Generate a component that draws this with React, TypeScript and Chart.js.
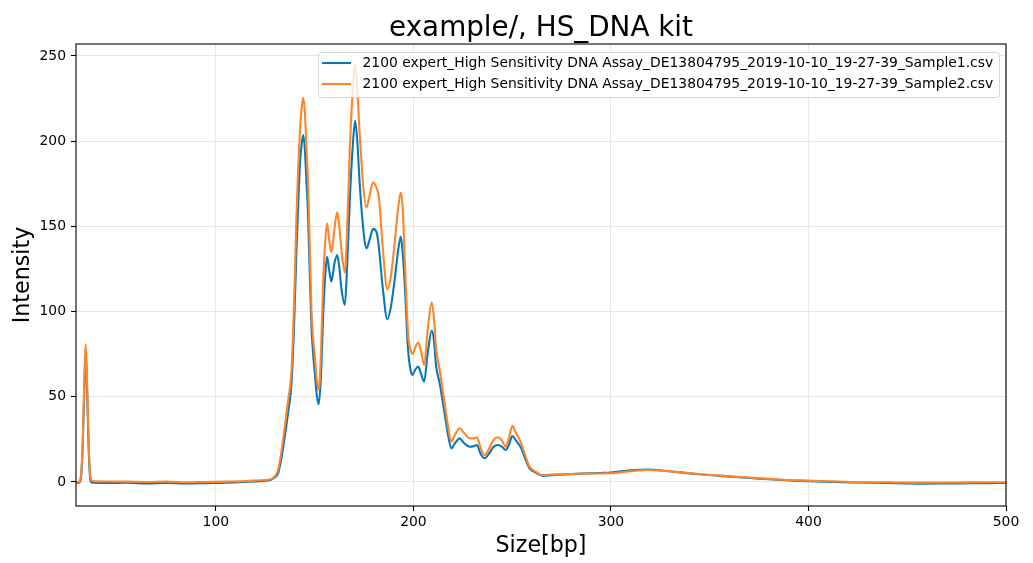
import React, { useEffect, useRef } from "react";
import { Chart, registerables } from "chart.js";

Chart.register(...registerables);

const chartTitle = "example/, HS_DNA kit";
const xAxisLabel = "Size[bp]";
const yAxisLabel = "Intensity";

const seriesLabels = [
  "2100 expert_High Sensitivity DNA Assay_DE13804795_2019-10-10_19-27-39_Sample1.csv",
  "2100 expert_High Sensitivity DNA Assay_DE13804795_2019-10-10_19-27-39_Sample2.csv",
];

const seriesColors = ["#0a78b6", "#ff8529"];

const xTicks = [100, 200, 300, 400, 500];
const yTicks = [0, 50, 100, 150, 200, 250];

const sizes = [
  29.2, 30.5, 31.5, 32.5, 33.3, 34.1, 34.9, 35.7, 36.5, 37.5,
  45, 55, 65, 75, 85, 95, 105, 115, 122,
  127.3, 129.5, 131.5, 133.2, 134.9, 136.6, 138.3, 139.6, 140.8, 141.7,
  142.5, 143.4, 144.2, 145, 145.8, 146.7, 147.5, 148.4, 149.2, 150.1,
  151.1, 152.1, 153.2, 154.3, 155.3, 156.3, 157.4, 158.5, 160, 161.4,
  162.5, 163.5, 165.3, 166.5, 167.8, 169.2, 170.5, 171.6, 172.8, 174.5,
  176.2, 177.8, 179.6, 181.5, 182.5, 184.6, 186.8, 188.5, 190.5, 192.2,
  193.6, 194.6, 195.6, 197.3, 198.5, 199.5, 201, 202.4, 204, 205.4,
  207.3, 209.3, 210.5, 211.5, 213.3, 215.8, 217.5, 219.2, 221.2, 223.4,
  225.5, 228.5, 230.5, 232.2, 234, 236.1, 238.5, 240.5, 242.9, 245,
  246.7, 248.4, 250.1, 251.8, 254.6, 256.5, 258.8, 262, 265.6, 270,
  275.5, 285, 295, 300, 310, 318.5, 329.6, 340, 355, 370,
  388.7, 399.5, 422, 440, 456, 475, 490, 500,
];

const sample2 = [
  0, 0, 2, 20, 55, 81, 55, 20, 3, 0.5,
  0.3, 0.2, 0, 0.2, -0.2, 0, 0.2, 0.5, 1,
  1.5, 3, 7, 18, 32.5, 48, 65.7, 105, 155.7, 185,
  204.8, 219, 225.5, 218, 198, 175.3, 140, 101, 85, 73.5,
  60, 54, 75, 116.7, 140, 151.8, 142, 134.8, 148, 158.3,
  150, 137, 122.8, 150, 194.8, 228, 244.7, 230, 204.8, 175,
  161, 168, 175.9, 172, 167.4, 136, 113.1, 120, 140, 160,
  169.8, 160, 132, 87, 78, 75.1, 79, 81.8, 76, 68.7,
  90, 105.4, 95, 78, 65.7, 46.2, 33, 23.7, 28, 31.5,
  29, 25.6, 25.5, 26.2, 20, 15.8, 20, 24.5, 26.2, 24,
  20.7, 26, 32.9, 29, 22.7, 16, 9, 6, 4.1, 4.3,
  4.5, 4.8, 5, 5.1, 6.3, 7, 6.3, 5.2, 3.7, 2.6,
  1.2, 0.8, 0, -0.2, -0.4, -0.3, -0.2, -0.2,
];

const sample1 = [
  -0.5, -0.5, 1, 18, 50, 77, 50, 17, 1, -0.5,
  -0.6, -0.5, -0.8, -0.6, -0.9, -0.7, -0.5, 0, 0.5,
  1, 2.5, 5, 14, 26.6, 41, 58, 92, 136, 163,
  185, 198, 203.6, 196, 178, 155.7, 124, 91, 76, 63.9,
  51, 45.6, 62, 97, 120, 132.2, 124, 117.6, 128, 133.2,
  126, 114, 103.9, 128, 165.5, 195, 211.9, 200, 175.3, 150,
  137.1, 142, 148.5, 146, 138, 112.7, 95.5, 102, 118.5, 135,
  144, 134, 116.6, 77.5, 66, 62.8, 66, 67.7, 63, 58.9,
  76, 88.8, 82, 68, 57.9, 40.3, 28, 19.8, 23, 25.6,
  23, 20.7, 21, 21.7, 16.5, 13.9, 17, 20.5, 21.7, 20.5,
  18.8, 22, 27, 24.5, 19.8, 14, 8, 5.5, 3.6, 4,
  4.4, 4.9, 5.3, 5.6, 6.9, 7.3, 6.3, 5, 3.6, 2.3,
  1, 0.5, -0.3, -0.6, -1, -0.8, -0.7, -0.6,
];

const xMin = 29.2;
const xMax = 500;
const yMin = -14.1;
const yMax = 257;

const FONT = '"DejaVu Sans", "Liberation Sans", sans-serif';

const decorPlugin = {
  id: "decor",
  afterDatasetsDraw(chart: any) {
    const { ctx, chartArea } = chart;
    const { left, right, top, bottom } = chartArea;
    ctx.save();
    // spines
    ctx.strokeStyle = "#000";
    ctx.lineWidth = 1.1;
    ctx.strokeRect(left, top, right - left, bottom - top);

    // legend
    const bx = 318.5;
    const by = 52.5;
    const bw = 681;
    const bh = 45;
    const r = 3;
    ctx.beginPath();
    ctx.moveTo(bx + r, by);
    ctx.lineTo(bx + bw - r, by);
    ctx.arcTo(bx + bw, by, bx + bw, by + r, r);
    ctx.lineTo(bx + bw, by + bh - r);
    ctx.arcTo(bx + bw, by + bh, bx + bw - r, by + bh, r);
    ctx.lineTo(bx + r, by + bh);
    ctx.arcTo(bx, by + bh, bx, by + bh - r, r);
    ctx.lineTo(bx, by + r);
    ctx.arcTo(bx, by, bx + r, by, r);
    ctx.closePath();
    ctx.fillStyle = "rgba(255,255,255,0.8)";
    ctx.fill();
    ctx.strokeStyle = "rgba(204,204,204,0.8)";
    ctx.lineWidth = 1;
    ctx.stroke();

    const rows = [63, 84];
    ctx.font = `13.9px ${FONT}`;
    ctx.textBaseline = "middle";
    ctx.textAlign = "left";
    seriesLabels.forEach((label, i) => {
      ctx.strokeStyle = seriesColors[i];
      ctx.lineWidth = 2.1;
      ctx.beginPath();
      ctx.moveTo(322, rows[i]);
      ctx.lineTo(351, rows[i]);
      ctx.stroke();
      ctx.fillStyle = "#000";
      ctx.fillText(label, 362.5, rows[i] + 0.5);
    });

    // title
    ctx.fillStyle = "#000";
    ctx.textAlign = "center";
    ctx.textBaseline = "alphabetic";
    ctx.font = `27.8px ${FONT}`;
    ctx.fillText(chartTitle, (left + right) / 2, 36);

    // x label
    ctx.font = `22.2px ${FONT}`;
    ctx.fillText(xAxisLabel, (left + right) / 2, 552);

    // y label
    ctx.translate(23, (top + bottom) / 2);
    ctx.rotate(-Math.PI / 2);
    ctx.textBaseline = "middle";
    ctx.fillText(yAxisLabel, 0, 0);
    ctx.restore();
  },
};

export default function App() {
  const canvasRef = useRef<HTMLCanvasElement | null>(null);

  useEffect(() => {
    document.body.style.margin = "0";
    const canvas = canvasRef.current;
    if (!canvas) return;
    const makeData = (vals: number[]) => sizes.map((x, i) => ({ x, y: vals[i] }));
    const chart = new Chart(canvas, {
      type: "line",
      data: {
        datasets: [
          {
            label: seriesLabels[0],
            data: makeData(sample1),
            borderColor: seriesColors[0],
            backgroundColor: seriesColors[0],
            borderWidth: 2.1,
            pointRadius: 0,
            cubicInterpolationMode: "monotone",
            order: 1,
          },
          {
            label: seriesLabels[1],
            data: makeData(sample2),
            borderColor: seriesColors[1],
            backgroundColor: seriesColors[1],
            borderWidth: 2.1,
            pointRadius: 0,
            cubicInterpolationMode: "monotone",
            order: 0,
          },
        ],
      },
      options: {
        responsive: false,
        animation: false,
        devicePixelRatio: 1,
        layout: { padding: { left: 0, right: 27, top: 44, bottom: 0 } },
        plugins: {
          legend: { display: false },
          title: { display: false },
          tooltip: { enabled: false },
        },
        scales: {
          x: {
            type: "linear",
            min: xMin,
            max: xMax,
            afterBuildTicks: (axis: any) => {
              axis.ticks = xTicks.map((v) => ({ value: v }));
            },
            afterFit: (scale: any) => {
              scale.height = 57;
            },
            border: { display: false },
            grid: {
              color: "#e6e6e6",
              lineWidth: 1,
              tickColor: "#000",
              tickLength: 5,
              tickWidth: 1.1,
            },
            ticks: {
              color: "#000",
              font: { family: FONT, size: 13.9 },
              padding: 3,
              maxRotation: 0,
              autoSkip: false,
            },
          },
          y: {
            type: "linear",
            min: yMin,
            max: yMax,
            afterBuildTicks: (axis: any) => {
              axis.ticks = yTicks.map((v) => ({ value: v }));
            },
            afterFit: (scale: any) => {
              scale.width = 76;
            },
            border: { display: false },
            grid: {
              color: "#e6e6e6",
              lineWidth: 1,
              tickColor: "#000",
              tickLength: 5,
              tickWidth: 1.1,
            },
            ticks: {
              color: "#000",
              font: { family: FONT, size: 13.9 },
              padding: 5,
              autoSkip: false,
            },
          },
        },
      },
      plugins: [decorPlugin],
    } as any);
    return () => chart.destroy();
  }, []);

  return (
    <div style={{ width: 1033, height: 563 }}>
      <canvas ref={canvasRef} width={1033} height={563} style={{ display: "block", width: 1033, height: 563 }} />
    </div>
  );
}
